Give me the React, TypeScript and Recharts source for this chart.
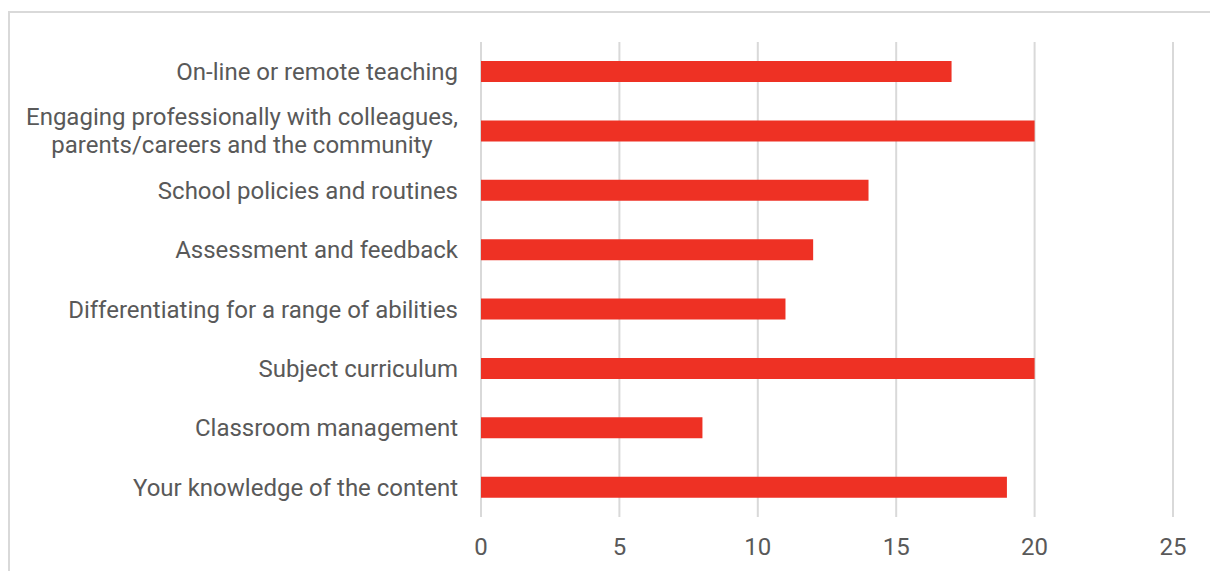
import React from "react";
import { BarChart, Bar, XAxis, YAxis, CartesianGrid } from "recharts";

const categories: string[] = [
  "On-line or remote teaching",
  "Engaging professionally with colleagues,\nparents/careers and the community",
  "School policies and routines",
  "Assessment and feedback",
  "Differentiating for a range of abilities",
  "Subject curriculum",
  "Classroom management",
  "Your knowledge of the content",
];
const values: number[] = [17, 20, 14, 12, 11, 20, 8, 19];
const xTicks: number[] = [0, 5, 10, 15, 20, 25];

const data = categories.map((c, i) => ({ name: c, value: values[i] }));

const FONT = "Roboto, 'Noto Sans', sans-serif";
const TEXT = "#595959";
const FS = 24;

let ctx: CanvasRenderingContext2D | null = null;
const measure = (s: string): number => {
  if (typeof document === "undefined") return s.length * FS * 0.5;
  if (!ctx) ctx = document.createElement("canvas").getContext("2d");
  if (!ctx) return s.length * FS * 0.5;
  ctx.font = `${FS}px Roboto`;
  return ctx.measureText(s).width;
};

const YTick = (props: any) => {
  const { x, y, payload } = props;
  const lines: string[] = String(payload.value).split("\n");
  const lh = 28;
  const start = -((lines.length - 1) * lh) / 2;
  if (lines.length === 1) {
    return (
      <text x={x} y={y} dy="0.35em" textAnchor="end" fill={TEXT} fontSize={FS} fontFamily={FONT}>
        {lines[0]}
      </text>
    );
  }
  const w = Math.max(...lines.map(measure));
  const cx = x - w / 2;
  return (
    <text x={cx} y={y} textAnchor="middle" fill={TEXT} fontSize={FS} fontFamily={FONT}>
      {lines.map((l, i) => (
        <tspan key={i} x={cx} y={y + start + i * lh} dy="0.35em">
          {l}
        </tspan>
      ))}
    </text>
  );
};

export default function App() {
  return (
    <div style={{ position: "absolute", left: 0, top: 0, width: 1210, height: 571, overflow: "hidden", background: "#fff" }}>
      <div
        style={{
          position: "absolute",
          left: 8,
          top: 11,
          width: 1202,
          height: 560,
          borderTop: "2px solid #d9d9d9",
          borderLeft: "2px solid #d9d9d9",
          boxSizing: "border-box",
        }}
      />
      <div style={{ position: "absolute", left: 0, top: 0 }}>
        <BarChart
          width={1210}
          height={571}
          data={data}
          layout="vertical"
          margin={{ top: 42, right: 37, bottom: 0, left: 0 }}
          barCategoryGap={0}
        >
          <CartesianGrid horizontal={false} stroke="#d9d9d9" strokeWidth={2} />
          <XAxis
            type="number"
            domain={[0, 25]}
            ticks={xTicks}
            axisLine={false}
            tickLine={false}
            tickSize={0}
            tickMargin={21}
            height={54}
            tick={{ fill: TEXT, fontSize: FS, fontFamily: FONT }}
            interval={0}
          />
          <YAxis
            type="category"
            dataKey="name"
            width={481}
            axisLine={false}
            tickLine={false}
            tickSize={0}
            tickMargin={23}
            tick={<YTick />}
            interval={0}
          />
          <Bar dataKey="value" fill="#EE3124" barSize={21} isAnimationActive={false} />
        </BarChart>
      </div>
    </div>
  );
}
